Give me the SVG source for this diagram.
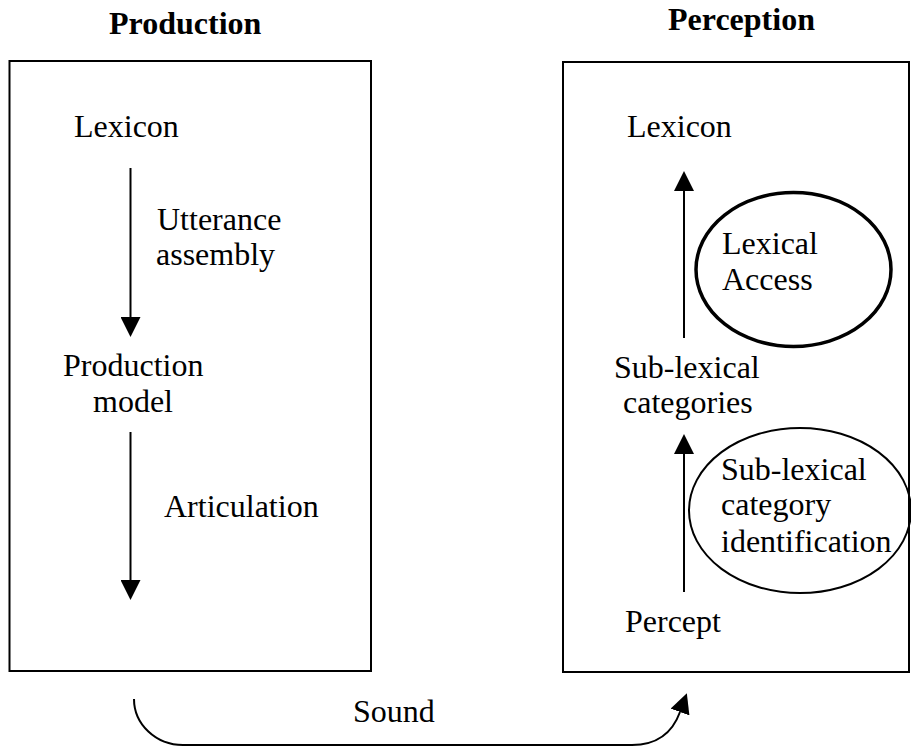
<svg xmlns="http://www.w3.org/2000/svg" width="911" height="746" viewBox="0 0 911 746">
<style>
text{font-family:"Liberation Serif","Times New Roman",serif;font-size:32px;fill:#000}
.title{font-weight:bold}
.box{fill:none;stroke:#000;stroke-width:2}
.conn{fill:none;stroke:#000;stroke-width:2}
.ell1{fill:none;stroke:#000;stroke-width:3.5}
.ell2{fill:none;stroke:#000;stroke-width:2}
</style>
<defs>
<marker id="ah" markerUnits="userSpaceOnUse" markerWidth="20" markerHeight="20" refX="0" refY="10" orient="auto" viewBox="0 0 20 20">
<path d="M0,0 L20,10 L0,20 z" fill="#000"/>
</marker>
</defs>
<rect width="911" height="746" fill="#fff"/>
<g id="production-panel">
<text class="title" x="109" y="34">Production</text>
<rect class="box" x="9.5" y="61" width="361.5" height="610"/>
</g>
<g id="perception-panel">
<text class="title" x="668" y="30">Perception</text>
<rect class="box" x="563" y="62" width="346" height="610"/>
</g>
<g id="prod-lexicon"><text x="74" y="137">Lexicon</text></g>
<g id="utterance-assembly"><text x="157" y="230">Utterance</text><text x="156" y="265">assembly</text></g>
<g id="production-model"><text x="63" y="376">Production</text><text x="93" y="412">model</text></g>
<g id="articulation"><text x="164" y="517">Articulation</text></g>
<g id="perc-lexicon"><text x="627" y="137">Lexicon</text></g>
<g id="lexical-access">
<ellipse class="ell1" cx="793.5" cy="269.5" rx="97.5" ry="77"/>
<text x="722" y="254">Lexical</text><text x="722" y="290">Access</text>
</g>
<g id="sublexical-categories"><text x="614" y="378">Sub-lexical</text><text x="623" y="413">categories</text></g>
<g id="sublexical-identification">
<ellipse class="ell2" cx="800" cy="510.5" rx="111" ry="82.5"/>
<text x="721" y="480">Sub-lexical</text><text x="721" y="515">category</text><text x="721" y="552">identification</text>
</g>
<g id="percept"><text x="625" y="632">Percept</text></g>
<g id="sound"><text x="353" y="722">Sound</text></g>
<g id="connectors">
<line class="conn" x1="130.5" y1="168" x2="130.5" y2="317" marker-end="url(#ah)"/>
<line class="conn" x1="130.5" y1="432" x2="130.5" y2="580" marker-end="url(#ah)"/>
<line class="conn" x1="684" y1="338" x2="684" y2="191" marker-end="url(#ah)"/>
<line class="conn" x1="684" y1="592" x2="684" y2="454" marker-end="url(#ah)"/>
<path class="conn" d="M134,699 A49,46 0 0 0 183,745 L632,745 Q668,745 680,712" marker-end="url(#ah)"/>
</g>
</svg>
